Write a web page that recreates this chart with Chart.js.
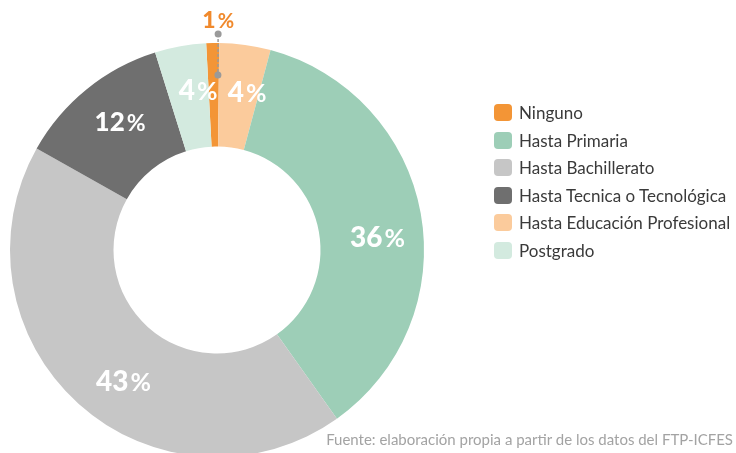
<!DOCTYPE html>
<html lang="es">
<head>
  <meta charset="UTF-8">
  <title>Nivel educativo</title>
  <script src="https://cdn.jsdelivr.net/npm/chart.js"></script>
  <style>
    html, body { margin: 0; padding: 0; background: #fff; overflow: hidden; }
    #wrap { position: relative; width: 736px; height: 453px; overflow: hidden; font-family: Lato, "Open Sans", sans-serif; }
    #levelChart { position: absolute; left: 0; top: 0; }
    #legend { position: absolute; left: 494px; top: 104px; margin: 0; padding: 0; list-style: none; }
    #legend li { height: 27.5px; display: flex; align-items: flex-start; font-size: 17px; color: #3a3a3a; white-space: nowrap; }
    #legend span.box { width: 18px; height: 17px; border-radius: 4px; margin-right: 7px; flex: none; }
    #legend span.txt { line-height: 17px; }
    #source { position: absolute; right: 3px; top: 430px; font-size: 15px; color: #a3a3a3; white-space: nowrap; }
  </style>
</head>
<body>
  <div id="wrap">
    <canvas id="levelChart" width="736" height="460"></canvas>
    <ul id="legend"></ul>
    <div id="source">Fuente: elaboración propia a partir de los datos del FTP-ICFES</div>
  </div>

  <script>
    // slices in drawing order, clockwise from the top
    const labels = ['Ninguno', 'Hasta Educación Profesional', 'Hasta Primaria', 'Hasta Bachillerato', 'Hasta Tecnica o Tecnológica', 'Postgrado'];
    const values = [1, 4, 36, 43, 12, 4];
    const colors = ['#F39536', '#FBCB9C', '#9DCEB7', '#C6C6C6', '#6F6F6F', '#D3EADF'];
    // order the legend lists them in
    const legendOrder = ['Ninguno', 'Hasta Primaria', 'Hasta Bachillerato', 'Hasta Tecnica o Tecnológica', 'Hasta Educación Profesional', 'Postgrado'];

    // percentage labels inside the ring, the first one goes outside with a leader
    const pctLabels = {
      id: 'pctLabels',
      afterDatasetsDraw(chart, args, opts) {
        const ctx = chart.ctx;
        const arcs = chart.getDatasetMeta(0).data;
        arcs.forEach((arc, i) => {
          const p = arc.getProps(['x', 'y', 'startAngle', 'endAngle', 'outerRadius', 'innerRadius'], true);
          const mid = (p.startAngle + p.endAngle) / 2 + (opts.shift[i] || 0) * Math.PI / 180;
          const num = String(chart.data.datasets[0].data[i]);
          const size = opts.sizes[i];
          let r, color;
          ctx.save();
          if (i === 0) {
            color = '#F0892C';
            r = p.outerRadius + 23;
            const r1 = p.outerRadius + 9, r2 = p.outerRadius - 32;
            const x1 = p.x + Math.cos(mid) * r1, y1 = p.y + Math.sin(mid) * r1;
            const x2 = p.x + Math.cos(mid) * r2, y2 = p.y + Math.sin(mid) * r2;
            ctx.strokeStyle = '#9a9a9a';
            ctx.lineWidth = 1.5;
            ctx.setLineDash([3, 2]);
            ctx.beginPath(); ctx.moveTo(x1, y1); ctx.lineTo(x2, y2); ctx.stroke();
            ctx.setLineDash([]);
            ctx.fillStyle = '#9a9a9a';
            [[x1, y1], [x2, y2]].forEach(([x, y]) => { ctx.beginPath(); ctx.arc(x, y, 3.5, 0, Math.PI * 2); ctx.fill(); });
          } else {
            color = '#ffffff';
            r = p.outerRadius * 0.778;
          }
          const cx = p.x + Math.cos(mid) * r;
          const cy = p.y + Math.sin(mid) * r;
          const numFont = '900 ' + size + 'px Lato';
          const pctFont = '700 ' + Math.round(size * 0.88) + 'px Lato';
          ctx.font = numFont;
          const wNum = ctx.measureText(num).width;
          ctx.font = pctFont;
          const wPct = ctx.measureText('%').width;
          const x0 = cx - (wNum + wPct + 2) / 2;
          const base = cy + size * 0.36;
          ctx.fillStyle = color;
          ctx.textBaseline = 'alphabetic';
          ctx.textAlign = 'left';
          ctx.font = numFont;
          ctx.fillText(num, x0, base);
          ctx.font = pctFont;
          ctx.fillText('%', x0 + wNum + 2, base);
          ctx.restore();
        });
      }
    };

    const chart = new Chart(document.getElementById('levelChart'), {
      type: 'doughnut',
      data: {
        labels: labels,
        datasets: [{
          data: values,
          backgroundColor: colors,
          borderWidth: 0,
          hoverOffset: 0
        }]
      },
      options: {
        responsive: false,
        animation: false,
        rotation: -3,
        cutout: '50%',
        layout: { padding: { left: 10, top: 43, right: 312, bottom: 3 } },
        plugins: {
          legend: { display: false },
          tooltip: { enabled: false },
          pctLabels: {
            shift: [1.5, 3, 5.5, -6.5, 2, 3.5],
            sizes: [23, 28, 28, 28, 26, 28]
          }
        }
      },
      plugins: [pctLabels]
    });

    // html legend built from the chart's own labels and colours
    const legendEl = document.getElementById('legend');
    legendOrder.forEach(name => {
      const idx = chart.data.labels.indexOf(name);
      const li = document.createElement('li');
      const box = document.createElement('span');
      box.className = 'box';
      box.style.background = chart.data.datasets[0].backgroundColor[idx];
      const txt = document.createElement('span');
      txt.className = 'txt';
      txt.textContent = name;
      li.appendChild(box);
      li.appendChild(txt);
      legendEl.appendChild(li);
    });
  </script>
</body>
</html>
